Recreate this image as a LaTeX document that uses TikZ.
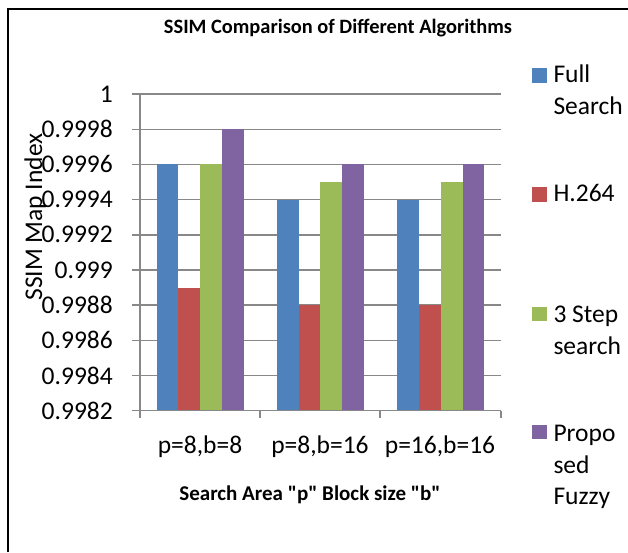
\documentclass[tikz,border=0pt]{standalone}
\usepackage{fontspec}
\setmainfont{Carlito}[Ligatures=TeXOff]
\definecolor{cblue}{HTML}{4F81BD}
\definecolor{cred}{HTML}{C0504D}
\definecolor{cgreen}{HTML}{9BBB59}
\definecolor{cpurple}{HTML}{8064A2}
\definecolor{gridgray}{HTML}{888888}
\tikzset{
  gridline/.style={draw=gridgray, line width=1.4pt},
  axisline/.style={draw=gridgray, line width=1.4pt},
  reg/.style={font=\fontsize{25.5}{31.5}\selectfont, inner sep=0pt},
  bld/.style={font=\fontsize{20.4}{24}\selectfont\bfseries, inner sep=0pt},
  legtext/.style={reg, anchor=base west, align=left},
}
\begin{document}
\begin{tikzpicture}[x=1pt,y=-1pt]
\useasboundingbox (0,0) rectangle (628,552);
% frame
\draw[line width=2.2pt] (8,552) -- (8,9) -- (628,9);
% title
\node[bld, anchor=base] (title) at (338,33.3) {SSIM Comparison of Different Algorithms};
% gridlines
\foreach \i in {1,...,9} {
  \draw[gridline] (132,{410.7-\i*35.18}) -- (501,{410.7-\i*35.18});
}
% bars
\foreach \g/\b/\k/\c in {0/0/7/cblue,0/1/3.5/cred,0/2/7/cgreen,0/3/8/cpurple,
                          1/0/6/cblue,1/1/3/cred,1/2/6.5/cgreen,1/3/7/cpurple,
                          2/0/6/cblue,2/1/3/cred,2/2/6.5/cgreen,2/3/7/cpurple} {
  \fill[\c] ({140+120.33*\g+16.5+21.8*\b},410.7) rectangle ++(21.8,{-\k*35.18});
}
% axes
\draw[axisline] (140,94) -- (140,418);
\draw[axisline] (132,410.7) -- (501,410.7);
\foreach \x in {260,380,501} { \draw[axisline] (\x,410.7) -- (\x,418); }
% y tick labels
\foreach \i/\t in {0/0.9982,1/0.9984,2/0.9986,3/0.9988,4/0.999,5/0.9992,6/0.9994,7/0.9996,8/0.9998,9/1} {
  \node[reg, anchor=east] (yt\i) at (113,{410.7-\i*35.18}) {\t};
}
% y axis title
\node[reg, anchor=base, rotate=90] (ytitle) at (42,217) {SSIM Map Index};
% category labels
\node[reg, anchor=base] (c1) at (200,453) {p=8,b=8};
\node[reg, anchor=base] (c2) at (320,453) {p=8,b=16};
\node[reg, anchor=base] (c3) at (440,453) {p=16,b=16};
% x axis title
\node[bld, font=\fontsize{21}{24}\selectfont\bfseries, anchor=base] (xtitle) at (310,500.7) {Search Area "p" Block size "b"};
% legend
\fill[cblue]   (532.3,68.3)  rectangle ++(14.4,14.4);
\fill[cred]    (532.3,187.3) rectangle ++(14.4,14.4);
\fill[cgreen]  (532.3,306.5) rectangle ++(14.4,14.4);
\fill[cpurple] (532.3,425)   rectangle ++(14.4,14.4);
\node[legtext] (l1) at (553.3,114.2) {Full\\Search};
\node[legtext] (l2) at (553.3,201.7) {H.264};
\node[legtext] (l3) at (553.3,354.2) {3 Step\\search};
\node[legtext] (l4) at (553.3,504.7) {Propo\\sed\\Fuzzy};
\end{tikzpicture}
\end{document}
